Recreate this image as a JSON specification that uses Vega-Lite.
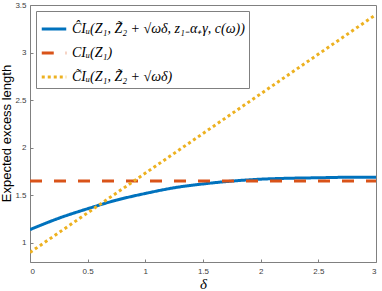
{
  "$schema": "https://vega.github.io/schema/vega-lite/v6.json",
  "width": 346,
  "height": 257,
  "autosize": "none",
  "padding": {"left": 30, "top": 5, "right": 6, "bottom": 29},
  "background": "white",
  "config": {"view": {"stroke": "#808080", "strokeWidth": 1}},
  "data": {"values": [
    {"s": "a", "x": 0, "y": 1.14}, {"s": "a", "x": 0.25, "y": 1.26}, {"s": "a", "x": 0.5, "y": 1.36},
    {"s": "a", "x": 0.75, "y": 1.45}, {"s": "a", "x": 1, "y": 1.52}, {"s": "a", "x": 1.25, "y": 1.58},
    {"s": "a", "x": 1.5, "y": 1.62}, {"s": "a", "x": 1.75, "y": 1.65}, {"s": "a", "x": 2, "y": 1.67},
    {"s": "a", "x": 2.25, "y": 1.68}, {"s": "a", "x": 2.5, "y": 1.685}, {"s": "a", "x": 2.75, "y": 1.69},
    {"s": "a", "x": 3, "y": 1.69},
    {"s": "b", "x": 0, "y": 1.65}, {"s": "b", "x": 3, "y": 1.65},
    {"s": "c", "x": 0, "y": 0.9}, {"s": "c", "x": 3, "y": 3.4}
  ]},
  "mark": {"type": "line", "strokeWidth": 3, "interpolate": "monotone", "clip": true},
  "encoding": {
    "x": {"field": "x", "type": "quantitative", "scale": {"domain": [0, 3], "nice": false},
      "axis": {"values": [0, 0.5, 1, 1.5, 2, 2.5, 3], "labelExpr": "datum.value", "title": "δ", "titleFont": "Liberation Serif", "titleFontStyle": "italic", "titleFontWeight": "normal", "titleFontSize": 15, "titlePadding": 1,
        "labelFontSize": 8, "labelColor": "#404040", "labelFont": "Liberation Sans", "grid": false, "domain": false, "tickColor": "#808080", "tickSize": -3, "labelPadding": 8}},
    "y": {"field": "y", "type": "quantitative", "scale": {"domain": [0.8, 3.5], "nice": false, "zero": false},
      "axis": {"values": [1, 1.5, 2, 2.5, 3, 3.5], "labelExpr": "datum.value", "title": "Expected excess length", "titleFont": "Liberation Sans", "titleFontWeight": "normal", "titleFontSize": 13,
        "titleX": -17, "titleY": 128, "titleAngle": -90, "titleAlign": "center", "titleBaseline": "bottom",
        "labelFontSize": 8, "labelColor": "#404040", "labelFont": "Liberation Sans", "grid": false, "domain": false, "tickColor": "#808080", "tickSize": -3, "labelPadding": 7}},
    "color": {"field": "s", "type": "nominal",
      "scale": {"domain": ["a", "b", "c"], "range": ["#0072BD", "#D95319", "#EDB120"]},
      "legend": {"orient": "top-left", "offset": 6, "title": null, "symbolType": "stroke", "symbolSize": 600, "symbolStrokeWidth": 3,
        "labelFont": "Liberation Serif", "labelFontStyle": "italic", "labelFontSize": 14, "labelColor": "black", "rowPadding": 3, "padding": 4,
        "strokeColor": "#808080", "fillColor": "white", "labelLimit": 300,
        "labelExpr": "datum.value == 'a' ? 'ĈIᵤ(Z₁, Z̃₂ + √ωδ, z₁₋α₊γ, c(ω))' : datum.value == 'b' ? '  CIᵤ(Z₁)' : 'C̃Iᵤ(Z₁, Z̃₂ + √ωδ)'"}},
    "strokeDash": {"field": "s", "type": "nominal",
      "scale": {"domain": ["a", "b", "c"], "range": [[1, 0], [12, 12], [3, 3]]}}
  }
}
